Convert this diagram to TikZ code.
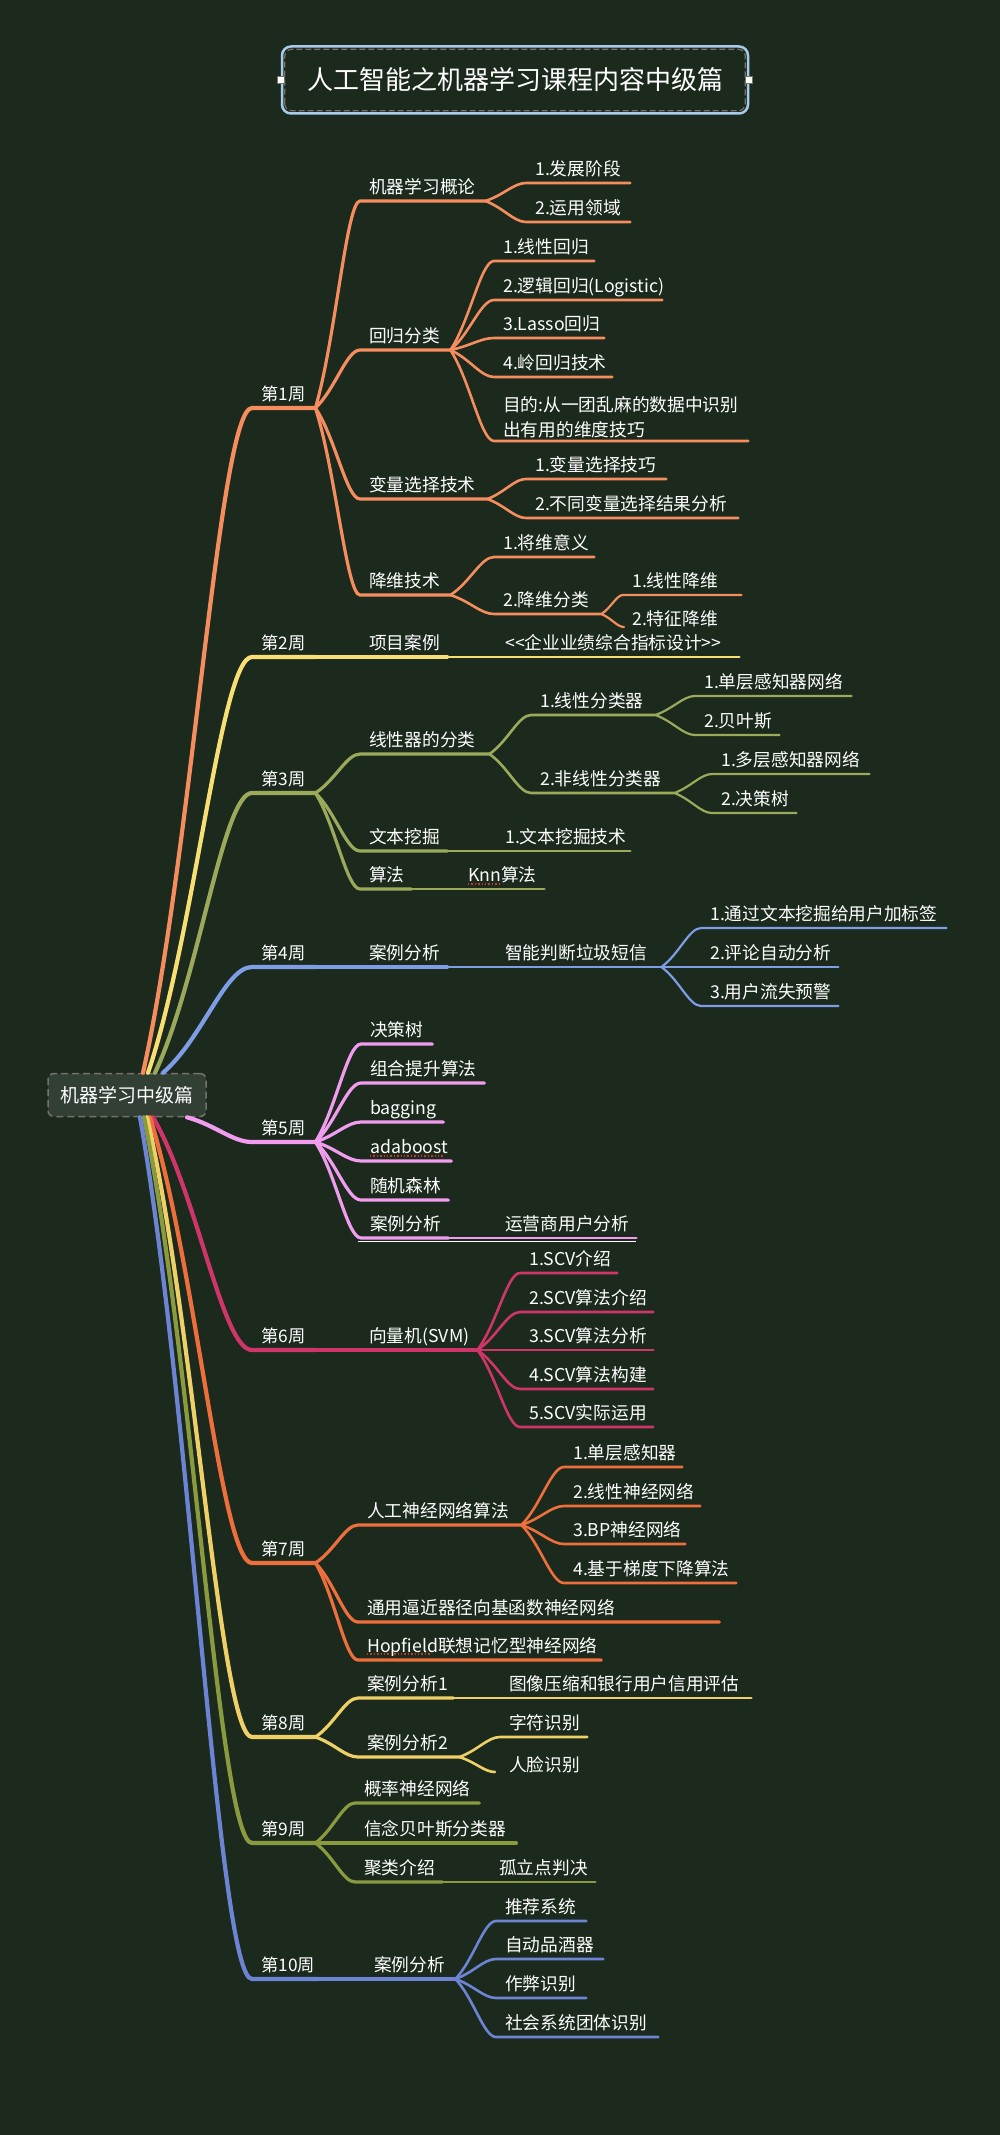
\documentclass[tikz,border=0pt]{standalone}
\usepackage{fontspec}
\setmainfont{Noto Sans CJK SC}
\usetikzlibrary{calc}

\definecolor{bg}{HTML}{1B2A1D}
\definecolor{col1}{HTML}{F58D5E}
\definecolor{col2}{HTML}{F8DF74}
\definecolor{col3}{HTML}{9BA95B}
\definecolor{col4}{HTML}{7F9DE6}
\definecolor{col5}{HTML}{F29CEF}
\definecolor{col6}{HTML}{D0356A}
\definecolor{col7}{HTML}{EE6F3C}
\definecolor{col8}{HTML}{EFD067}
\definecolor{col9}{HTML}{8A9A3E}
\definecolor{col10}{HTML}{6C84D3}
\definecolor{titleline}{HTML}{A9CBEA}
\definecolor{dashgray}{HTML}{77716A}
\definecolor{spellred}{HTML}{C0392B}

\newcommand{\ind}{\hspace*{9pt}}
\newcommand{\lt}{<\kern0pt<}
\newcommand{\gt}{>\kern0pt>}

\tikzset{
  br/.code={\colorlet{brc}{#1}},
  cv/.style={to path={let \p1=(\tikztostart), \p2=(\tikztotarget) in
    .. controls ({\x1+0.45*(\x2-\x1)},{\y1+0.33*(\y2-\y1)}) and ({\x2-0.3*(\x2-\x1)},\y2) .. (\tikztotarget)}},
  tw/.style={text width=#1pt},
  tp/.style={anchor=south west, inner xsep=0pt, inner ysep=3pt, text depth=4pt,
    align=left, text=white, font=\fontsize{17.7}{25}\selectfont,
    execute at begin node={\hyphenpenalty=10000 \exhyphenpenalty=10000 }},
  wk/.style={tp, font=\fontsize{17.3}{20}\selectfont},
  l1/.style={draw=brc, line width=4.2pt, line cap=round},
  l2/.style={draw=brc, line width=3.2pt, line cap=round},
  l3/.style={draw=brc, line width=2.6pt, line cap=round},
  l4/.style={draw=brc, line width=2.2pt, line cap=round},
  sp/.style={draw=spellred, dotted, line width=1.4pt},
  rootbox/.style={draw=dashgray, dash pattern=on 7pt off 4pt, line width=1.5pt,
    fill=bg!90!white, rounded corners=6pt, minimum width=158pt, minimum height=43pt,
    text=white, font=\fontsize{19}{22}\selectfont},
  titlebox/.style={draw=titleline, line width=2.5pt, fill=bg, rounded corners=9pt,
    minimum width=466pt, minimum height=67pt, text=white, font=\fontsize{26}{30}\selectfont},
  handle/.style={draw=dashgray, fill=white, line width=0.6pt, minimum size=7pt, inner sep=0pt},
}

\begin{document}
\begin{tikzpicture}[x=1pt, y=-1pt]
  \fill[bg] (0,0) rectangle (1000,2135);
  \useasboundingbox (0,0) rectangle (1000,2135);

  % title
  \node[titlebox] (title) at (515,80) {人工智能之机器学习课程内容中级篇};
  \draw[dashgray, dash pattern=on 6pt off 3pt, line width=1.2pt, rounded corners=7pt]
    ($(title.south west)+(4,-4)$) rectangle ($(title.north east)+(-4,4)$);
  \node[handle] (hl) at (title.west) {};
  \node[handle] (hr) at (title.east) {};

  % root
  \node[rootbox] (root) at (127,1095) {机器学习中级篇};

  % week 1
  \begin{scope}[br=col1]
    \node[wk, tw=63] (w1) at (252,408) {\ind 第1周};
    \node[tp, tw=125] (a1) at (360,201) {\ind 机器学习概论};
    \node[tp, tw=90] (a2) at (360,350) {\ind 回归分类};
    \node[tp, tw=127] (a3) at (360,499) {\ind 变量选择技术};
    \node[tp, tw=90] (a4) at (360,595) {\ind 降维技术};
    \node[tp, tw=104] (a11) at (526,183) {\ind 1.发展阶段};
    \node[tp, tw=104] (a12) at (526,222) {\ind 2.运用领域};
    \node[tp, tw=100] (a21) at (494,261) {\ind 1.线性回归};
    \node[tp, tw=168] (a22) at (494,300) {\ind 2.逻辑回归(Logistic)};
    \node[tp, tw=110] (a23) at (494,338) {\ind 3.Lasso回归};
    \node[tp, tw=118] (a24) at (494,377) {\ind 4.岭回归技术};
    \node[tp, tw=254, text depth=] (a25) at (494,441) {\ind 目的:从一团乱麻的数据中识别\\\ind 出有用的维度技巧};
    \node[tp, tw=140] (a31) at (526,479) {\ind 1.变量选择技巧};
    \node[tp, tw=212] (a32) at (526,518) {\ind 2.不同变量选择结果分析};
    \node[tp, tw=100] (a41) at (494,557) {\ind 1.将维意义};
    \node[tp, tw=107] (a42) at (494,614) {\ind 2.降维分类};
    \node[tp, tw=118] (a421) at (623,595) {\ind 1.线性降维};
    \node[tp, tw=118] (a422) at (623,633) {\ind 2.特征降维};
    \coordinate (a422s) at (624,627);
    \draw[l1] ([xshift=16pt]root.north) to[cv] (w1.south west) -- (w1.south east);
    \draw[l2] (w1.south east) to[cv] (a1.south west) -- (a1.south east);
    \draw[l2] (w1.south east) to[cv] (a2.south west) -- (a2.south east);
    \draw[l2] (w1.south east) to[cv] (a3.south west) -- (a3.south east);
    \draw[l2] (w1.south east) to[cv] (a4.south west) -- (a4.south east);
    \draw[l3] (a1.south east) to[cv] (a11.south west) -- (a11.south east);
    \draw[l3] (a1.south east) to[cv] (a12.south west) -- (a12.south east);
    \draw[l3] (a2.south east) to[cv] (a21.south west) -- (a21.south east);
    \draw[l3] (a2.south east) to[cv] (a22.south west) -- (a22.south east);
    \draw[l3] (a2.south east) to[cv] (a23.south west) -- (a23.south east);
    \draw[l3] (a2.south east) to[cv] (a24.south west) -- (a24.south east);
    \draw[l3] (a2.south east) to[cv] (a25.south west) -- (a25.south east);
    \draw[l3] (a3.south east) to[cv] (a31.south west) -- (a31.south east);
    \draw[l3] (a3.south east) to[cv] (a32.south west) -- (a32.south east);
    \draw[l3] (a4.south east) to[cv] (a41.south west) -- (a41.south east);
    \draw[l3] (a4.south east) to[cv] (a42.south west) -- (a42.south east);
    \draw[l4] (a42.south east) to[cv] (a421.south west) -- (a421.south east);
    \draw[l4] (a42.south east) to[cv] (a422s);
  \end{scope}

  % week 2
  \begin{scope}[br=col2]
    \node[wk, tw=63] (w2) at (252,657) {\ind 第2周};
    \node[tp, tw=87] (b1) at (360,657) {\ind 项目案例};
    \node[tp, tw=243] (b11) at (496,657) {\ind \lt 企业业绩综合指标设计\gt};
    \draw[l1] ([xshift=21pt]root.north) to[cv] (w2.south west) -- (w2.south east);
    \draw[l2] (w2.south east) to[cv] (b1.south west) -- (b1.south east);
    \draw[l3] (b1.south east) to[cv] (b11.south west) -- (b11.south east);
  \end{scope}

  % week 3
  \begin{scope}[br=col3]
    \node[wk, tw=63] (w3) at (252,793) {\ind 第3周};
    \node[tp, tw=129] (c1) at (360,754) {\ind 线性器的分类};
    \node[tp, tw=124] (c11) at (531,715) {\ind 1.线性分类器};
    \node[tp, tw=156] (c111) at (695,696) {\ind 1.单层感知器网络};
    \node[tp, tw=84] (c112) at (695,735) {\ind 2.贝叶斯};
    \node[tp, tw=143] (c12) at (531,793) {\ind 2.非线性分类器};
    \node[tp, tw=157] (c121) at (712,774) {\ind 1.多层感知器网络};
    \node[tp, tw=84] (c122) at (712,813) {\ind 2.决策树};
    \node[tp, tw=87] (c2) at (360,851) {\ind 文本挖掘};
    \node[tp, tw=134] (c21) at (496,851) {\ind 1.文本挖掘技术};
    \node[tp, tw=51] (c3) at (360,889) {\ind 算法};
    \node[tp, tw=85] (c31) at (459,889) {\ind Knn算法};
    \draw[l1] ([xshift=28pt]root.north) to[cv] (w3.south west) -- (w3.south east);
    \draw[l2] (w3.south east) to[cv] (c1.south west) -- (c1.south east);
    \draw[l2] (w3.south east) to[cv] (c2.south west) -- (c2.south east);
    \draw[l2] (w3.south east) to[cv] (c3.south west) -- (c3.south east);
    \draw[l3] (c1.south east) to[cv] (c11.south west) -- (c11.south east);
    \draw[l3] (c1.south east) to[cv] (c12.south west) -- (c12.south east);
    \draw[l4] (c11.south east) to[cv] (c111.south west) -- (c111.south east);
    \draw[l4] (c11.south east) to[cv] (c112.south west) -- (c112.south east);
    \draw[l4] (c12.south east) to[cv] (c121.south west) -- (c121.south east);
    \draw[l4] (c12.south east) to[cv] (c122.south west) -- (c122.south east);
    \draw[l3] (c2.south east) to[cv] (c21.south west) -- (c21.south east);
    \draw[l3] (c3.south east) to[cv] (c31.south west) -- (c31.south east);
    \draw[sp] ($(c31.south west)+(9,-5)$) -- ++(31,0);
  \end{scope}

  % week 4
  \begin{scope}[br=col4]
    \node[wk, tw=63] (w4) at (252,967) {\ind 第4周};
    \node[tp, tw=87] (d1) at (360,967) {\ind 案例分析};
    \node[tp, tw=165] (d11) at (496,967) {\ind 智能判断垃圾短信};
    \node[tp, tw=245] (d111) at (701,928) {\ind 1.通过文本挖掘给用户加标签};
    \node[tp, tw=137] (d112) at (701,967) {\ind 2.评论自动分析};
    \node[tp, tw=137] (d113) at (701,1006) {\ind 3.用户流失预警};
    \draw[l1] ([xshift=36pt]root.north) to[cv] (w4.south west) -- (w4.south east);
    \draw[l2] (w4.south east) to[cv] (d1.south west) -- (d1.south east);
    \draw[l3] (d1.south east) to[cv] (d11.south west) -- (d11.south east);
    \draw[l4] (d11.south east) to[cv] (d111.south west) -- (d111.south east);
    \draw[l4] (d11.south east) to[cv] (d112.south west) -- (d112.south east);
    \draw[l4] (d11.south east) to[cv] (d113.south west) -- (d113.south east);
  \end{scope}

  % week 5
  \begin{scope}[br=col5]
    \node[wk, tw=63] (w5) at (252,1142) {\ind 第5周};
    \node[tp, tw=71] (e1) at (361,1044) {\ind 决策树};
    \node[tp, tw=123] (e2) at (361,1083) {\ind 组合提升算法};
    \node[tp, tw=82] (e3) at (361,1122) {\ind bagging};
    \node[tp, tw=90] (e4) at (361,1161) {\ind adaboost};
    \node[tp, tw=87] (e5) at (361,1200) {\ind 随机森林};
    \node[tp, tw=87] (e6) at (361,1238) {\ind 案例分析};
    \node[tp, tw=140] (e61) at (496,1238) {\ind 运营商用户分析};
    \draw[white, line width=0.9pt] ($(e6.south west)+(-3,3)$) -- ($(e61.south east)+(0,3)$);
    \draw[l1] ([xshift=60pt]root.south) to[cv] (w5.south west) -- (w5.south east);
    \draw[l2] (w5.south east) to[cv] (e1.south west) -- (e1.south east);
    \draw[l2] (w5.south east) to[cv] (e2.south west) -- (e2.south east);
    \draw[l2] (w5.south east) to[cv] (e3.south west) -- (e3.south east);
    \draw[l2] (w5.south east) to[cv] (e4.south west) -- (e4.south east);
    \draw[l2] (w5.south east) to[cv] (e5.south west) -- (e5.south east);
    \draw[l2] (w5.south east) to[cv] (e6.south west) -- (e6.south east);
    \draw[l3] (e6.south east) to[cv] (e61.south west) -- (e61.south east);
    \draw[sp] ($(e4.south west)+(9,-5)$) -- ++(74,0);
  \end{scope}

  % week 6
  \begin{scope}[br=col6]
    \node[wk, tw=63] (w6) at (252,1350) {\ind 第6周};
    \node[tp, tw=117] (f1) at (360,1350) {\ind 向量机(SVM)};
    \node[tp, tw=97] (f11) at (520,1273) {\ind 1.SCV介绍};
    \node[tp, tw=133] (f12) at (520,1312) {\ind 2.SCV算法介绍};
    \node[tp, tw=133] (f13) at (520,1350) {\ind 3.SCV算法分析};
    \node[tp, tw=133] (f14) at (520,1389) {\ind 4.SCV算法构建};
    \node[tp, tw=133] (f15) at (520,1427) {\ind 5.SCV实际运用};
    \draw[l1] ([xshift=26pt]root.south) to[cv] (w6.south west) -- (w6.south east);
    \draw[l2] (w6.south east) to[cv] (f1.south west) -- (f1.south east);
    \draw[l3] (f1.south east) to[cv] (f11.south west) -- (f11.south east);
    \draw[l3] (f1.south east) to[cv] (f12.south west) -- (f12.south east);
    \draw[l3] (f1.south east) to[cv] (f13.south west) -- (f13.south east);
    \draw[l3] (f1.south east) to[cv] (f14.south west) -- (f14.south east);
    \draw[l3] (f1.south east) to[cv] (f15.south west) -- (f15.south east);
  \end{scope}

  % week 7
  \begin{scope}[br=col7]
    \node[wk, tw=63] (w7) at (252,1563) {\ind 第7周};
    \node[tp, tw=163] (g1) at (358,1525) {\ind 人工神经网络算法};
    \node[tp, tw=118] (g11) at (564,1467) {\ind 1.单层感知器};
    \node[tp, tw=136] (g12) at (564,1506) {\ind 2.线性神经网络};
    \node[tp, tw=121] (g13) at (564,1544) {\ind 3.BP神经网络};
    \node[tp, tw=172] (g14) at (564,1583) {\ind 4.基于梯度下降算法};
    \node[tp, tw=361] (g2) at (358,1622) {\ind 通用逼近器径向基函数神经网络};
    \node[tp, tw=243] (g3) at (358,1660) {\ind Hopfield联想记忆型神经网络};
    \draw[l1] ([xshift=23pt]root.south) to[cv] (w7.south west) -- (w7.south east);
    \draw[l2] (w7.south east) to[cv] (g1.south west) -- (g1.south east);
    \draw[l2] (w7.south east) to[cv] (g2.south west) -- (g2.south east);
    \draw[l2] (w7.south east) to[cv] (g3.south west) -- (g3.south east);
    \draw[l3] (g1.south east) to[cv] (g11.south west) -- (g11.south east);
    \draw[l3] (g1.south east) to[cv] (g12.south west) -- (g12.south east);
    \draw[l3] (g1.south east) to[cv] (g13.south west) -- (g13.south east);
    \draw[l3] (g1.south east) to[cv] (g14.south west) -- (g14.south east);
    \draw[sp] ($(g3.south west)+(9,-6)$) -- ++(64,0);
  \end{scope}

  % week 8
  \begin{scope}[br=col8]
    \node[wk, tw=63] (w8) at (252,1737) {\ind 第8周};
    \node[tp, tw=95] (h1) at (358,1698) {\ind 案例分析1};
    \node[tp, tw=251] (h11) at (500,1698) {\ind 图像压缩和银行用户信用评估};
    \node[tp, tw=101] (h2) at (358,1757) {\ind 案例分析2};
    \node[tp, tw=87] (h21) at (500,1737) {\ind 字符识别};
    \node[tp, tw=87] (h22) at (500,1779) {\ind 人脸识别};
    \coordinate (h22s) at (495,1772);
    \draw[l1] ([xshift=20pt]root.south) to[cv] (w8.south west) -- (w8.south east);
    \draw[l2] (w8.south east) to[cv] (h1.south west) -- (h1.south east);
    \draw[l2] (w8.south east) to[cv] (h2.south west) -- (h2.south east);
    \draw[l3] (h1.south east) to[cv] (h11.south west) -- (h11.south east);
    \draw[l3] (h2.south east) to[cv] (h21.south west) -- (h21.south east);
    \draw[l3] (h2.south east) to[cv] (h22s);
  \end{scope}

  % week 9
  \begin{scope}[br=col9]
    \node[wk, tw=63] (w9) at (252,1843) {\ind 第9周};
    \node[tp, tw=124] (i1) at (355,1803) {\ind 概率神经网络};
    \node[tp, tw=161] (i2) at (355,1843) {\ind 信念贝叶斯分类器};
    \node[tp, tw=87] (i3) at (355,1882) {\ind 聚类介绍};
    \node[tp, tw=105] (i31) at (490,1882) {\ind 孤立点判决};
    \draw[l1] ([xshift=17pt]root.south) to[cv] (w9.south west) -- (w9.south east);
    \draw[l2] (w9.south east) to[cv] (i1.south west) -- (i1.south east);
    \draw[l2] (w9.south east) to[cv] (i2.south west) -- (i2.south east);
    \draw[l2] (w9.south east) to[cv] (i3.south west) -- (i3.south east);
    \draw[l3] (i3.south east) to[cv] (i31.south west) -- (i31.south east);
  \end{scope}

  % week 10
  \begin{scope}[br=col10]
    \node[wk, tw=66] (w10) at (252,1979) {\ind 第10周};
    \node[tp, tw=90] (j1) at (365,1979) {\ind 案例分析};
    \node[tp, tw=90] (j11) at (496,1921) {\ind 推荐系统};
    \node[tp, tw=107] (j12) at (496,1959) {\ind 自动品酒器};
    \node[tp, tw=90] (j13) at (496,1998) {\ind 作弊识别};
    \node[tp, tw=162] (j14) at (496,2037) {\ind 社会系统团体识别};
    \draw[l1] ([xshift=13pt]root.south) to[cv] (w10.south west) -- (w10.south east);
    \draw[l2] (w10.south east) to[cv] (j1.south west) -- (j1.south east);
    \draw[l3] (j1.south east) to[cv] (j11.south west) -- (j11.south east);
    \draw[l3] (j1.south east) to[cv] (j12.south west) -- (j12.south east);
    \draw[l3] (j1.south east) to[cv] (j13.south west) -- (j13.south east);
    \draw[l3] (j1.south east) to[cv] (j14.south west) -- (j14.south east);
  \end{scope}
\end{tikzpicture}
\end{document}
